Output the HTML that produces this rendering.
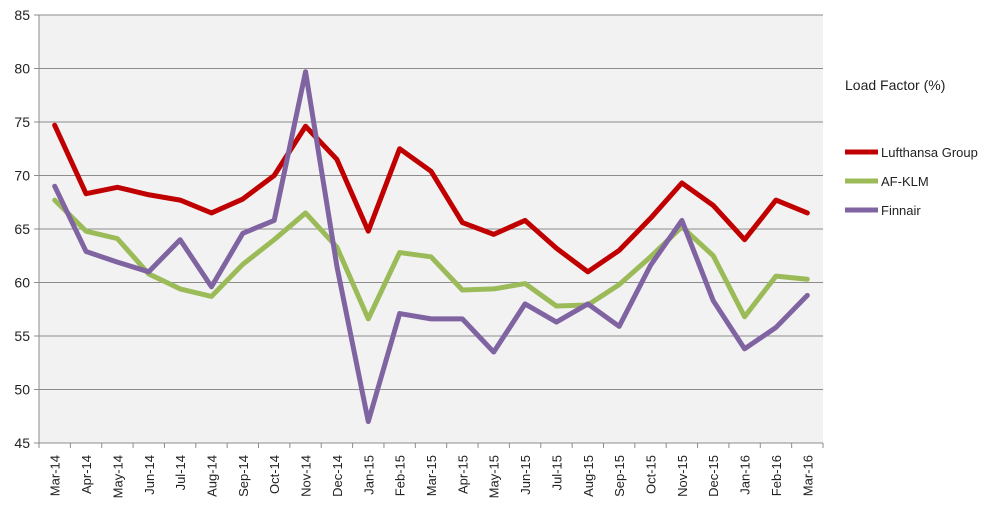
<!DOCTYPE html>
<html><head><meta charset="utf-8"><style>
body{margin:0;background:#fff;font-family:"Liberation Sans",sans-serif}
svg text{font-family:"Liberation Sans",sans-serif;fill:#222}
</style></head><body>
<svg id="c" width="1000" height="510"></svg>
<script>
const categories=["Mar-14","Apr-14","May-14","Jun-14","Jul-14","Aug-14","Sep-14","Oct-14","Nov-14","Dec-14","Jan-15","Feb-15","Mar-15","Apr-15","May-15","Jun-15","Jul-15","Aug-15","Sep-15","Oct-15","Nov-15","Dec-15","Jan-16","Feb-16","Mar-16"];
const lufthansa=[74.7,68.3,68.9,68.2,67.7,66.5,67.8,70,74.6,71.5,64.8,72.5,70.4,65.6,64.5,65.8,63.2,61,63,66,69.3,67.2,64,67.7,66.5];
const afklm=[67.7,64.8,64.1,60.8,59.4,58.7,61.7,64,66.5,63.3,56.6,62.8,62.4,59.3,59.4,59.9,57.8,57.9,59.8,62.4,65.2,62.5,56.8,60.6,60.3];
const finnair=[69,62.9,61.9,61,64,59.6,64.6,65.8,79.7,61.5,47,57.1,56.6,56.6,53.5,58,56.3,58,55.9,61.6,65.8,58.3,53.8,55.8,58.8];
const yTicks=[45,50,55,60,65,70,75,80,85];
const seriesNames=["Lufthansa Group","AF-KLM","Finnair"];
const colors=["#c00000","#9bbb59","#8064a2"];
const L=39,R=823,T=15,B=443,ymin=45,ymax=85;
const svg=document.getElementById('c');const NS="http://www.w3.org/2000/svg";
const bw=(R-L)/categories.length;
const x=i=>L+bw*(i+0.5);const y=v=>B-(v-ymin)/(ymax-ymin)*(B-T);
function el(t,a,p){const e=document.createElementNS(NS,t);for(const k in a)e.setAttribute(k,a[k]);(p||svg).appendChild(e);return e;}
const bg=el('rect',{x:L,y:T,width:R-L,height:B-T,fill:'#f2f2f2'});


yTicks.forEach(v=>{
 const g=el('line',{x1:L-5,x2:R,y1:y(v),y2:y(v),stroke:'#8c8c8c','stroke-width':1});
 
 
 const t=el('text',{x:L-9,y:y(v)+5,'text-anchor':'end','font-size':14});t.textContent=v;
 
 
});
const ax=el('line',{x1:L,x2:L,y1:T,y2:B+5,stroke:'#8c8c8c'});


for(let i=0;i<=categories.length;i++){
 const tk=el('line',{x1:L+bw*i,x2:L+bw*i,y1:B,y2:B+5,stroke:'#8c8c8c'});
 
 
}
categories.forEach((c,i)=>{
 const t=el('text',{x:0,y:0,'text-anchor':'end','font-size':13,transform:`translate(${x(i)+5},${B+12}) rotate(-90)`});t.textContent=c;
 
 
});
[lufthansa,afklm,finnair].forEach((s,k)=>{
 const p=el('polyline',{points:s.map((v,i)=>x(i)+','+y(v)).join(' '),fill:'none',stroke:colors[k],'stroke-width':5,'stroke-linejoin':'round','stroke-linecap':'round'});
 
 
});
const lt=el('text',{x:845,y:90,'font-size':14});lt.textContent="Load Factor (%)";


seriesNames.forEach((n,k)=>{
 const yy=152+k*29;
 const g=el('g',{});
 
 
 el('line',{x1:845,x2:878,y1:yy,y2:yy,stroke:colors[k],'stroke-width':5},g);
 const t=el('text',{x:881,y:yy+5,'font-size':13},g);t.textContent=n;
});
</script>
</body></html>
